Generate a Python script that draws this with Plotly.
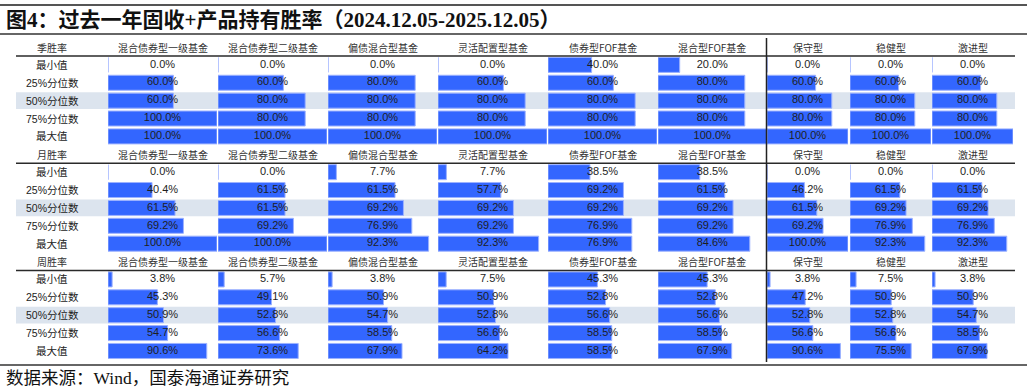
import plotly.graph_objects as go

W, H = 1032, 391

columns = ["混合债券型一级基金", "混合债券型二级基金", "偏债混合型基金", "灵活配置型基金",
           "债券型FOF基金", "混合型FOF基金", "保守型", "稳健型", "激进型"]
sections = ["季胜率", "月胜率", "周胜率"]
row_labels = ["最小值", "25%分位数", "50%分位数", "75%分位数", "最大值"]

# values per section: rows = 最小值, 25%, 50%, 75%, 最大值 ; cols = 9 fund types
quarter_min = [0.0, 0.0, 0.0, 0.0, 40.0, 20.0, 0.0, 0.0, 0.0]
quarter_p25 = [60.0, 60.0, 80.0, 60.0, 60.0, 80.0, 60.0, 60.0, 60.0]
quarter_p50 = [60.0, 80.0, 80.0, 80.0, 80.0, 80.0, 80.0, 80.0, 80.0]
quarter_p75 = [100.0, 80.0, 80.0, 80.0, 80.0, 80.0, 80.0, 80.0, 80.0]
quarter_max = [100.0, 100.0, 100.0, 100.0, 100.0, 100.0, 100.0, 100.0, 100.0]

month_min = [0.0, 0.0, 7.7, 7.7, 38.5, 38.5, 0.0, 0.0, 0.0]
month_p25 = [40.4, 61.5, 61.5, 57.7, 69.2, 61.5, 46.2, 61.5, 61.5]
month_p50 = [61.5, 61.5, 69.2, 69.2, 69.2, 69.2, 61.5, 69.2, 69.2]
month_p75 = [69.2, 69.2, 76.9, 69.2, 76.9, 69.2, 69.2, 76.9, 76.9]
month_max = [100.0, 100.0, 92.3, 92.3, 76.9, 84.6, 100.0, 92.3, 92.3]

week_min = [3.8, 5.7, 3.8, 7.5, 45.3, 45.3, 3.8, 7.5, 3.8]
week_p25 = [45.3, 49.1, 50.9, 50.9, 52.8, 52.8, 47.2, 50.9, 50.9]
week_p50 = [50.9, 52.8, 54.7, 52.8, 56.6, 56.6, 52.8, 52.8, 54.7]
week_p75 = [54.7, 56.6, 58.5, 56.6, 58.5, 58.5, 56.6, 56.6, 58.5]
week_max = [90.6, 73.6, 67.9, 64.2, 58.5, 67.9, 90.6, 75.5, 67.9]

section_data = [
    [quarter_min, quarter_p25, quarter_p50, quarter_p75, quarter_max],
    [month_min, month_p25, month_p50, month_p75, month_max],
    [week_min, week_p25, week_p50, week_p75, week_max],
]

# ---- layout geometry (pixels) ----
col_left = [108, 218, 328, 438, 548, 658, 767, 850, 932]
col_width = [109, 109, 109, 109, 109, 108.5, 81, 81, 81]
row_top_px, row_pitch = 47, 17.88
n_rows = 18

def px_x(p):
    return p / W

def px_y(p):
    return 1 - p / H

y_top = row_top_px - row_pitch / 2
y_bot = row_top_px + row_pitch * (n_rows - 1) + row_pitch / 2

BAR = "#3366FF"
BAR_EDGE = "#9DB2FF"
TXT = "#1e1e1e"
LATIN = "Liberation Sans, Arial, sans-serif"
CJK = "Noto Sans CJK SC"

fig = go.Figure()
annotations = []
shapes = []

for ci, name in enumerate(columns):
    xa = "x" if ci == 0 else f"x{ci+1}"
    ys, xs, labels = [], [], []
    for si, rows in enumerate(section_data):
        for ri, vals in enumerate(rows):
            ys.append(si * 6 + 1 + ri)
            xs.append(vals[ci])
            labels.append(f"{vals[ci]:.1f}%")
    fig.add_trace(go.Bar(
        x=xs, y=ys, orientation="h", xaxis=xa, yaxis="y",
        marker=dict(color=BAR, line=dict(color=BAR_EDGE, width=1)),
        width=0.84, hoverinfo="skip", showlegend=False,
    ))
    fig.add_trace(go.Scatter(
        x=[50] * len(ys), y=ys, mode="text", text=labels, xaxis=xa, yaxis="y",
        textfont=dict(family=LATIN, size=11, color=TXT), textposition="middle center",
        hoverinfo="skip", showlegend=False, cliponaxis=False,
    ))
    for si in range(3):
        annotations.append(dict(
            xref=xa, yref="y", x=50, y=si * 6, text=name, showarrow=False,
            font=dict(family=CJK, size=10, color="#333333"),
            xanchor="center", yanchor="middle"))

# left label column
for si, sname in enumerate(sections):
    annotations.append(dict(xref="paper", yref="y", x=px_x(52), y=si * 6, text=sname,
                            showarrow=False, font=dict(family=CJK, size=10, color="#333333"),
                            xanchor="center", yanchor="middle"))
    for ri, rl in enumerate(row_labels):
        annotations.append(dict(xref="paper", yref="y", x=px_x(52), y=si * 6 + 1 + ri, text=rl,
                                showarrow=False,
                                font=dict(family=f"{LATIN.split(',')[0]}, {CJK}", size=10.5, color="#222222"),
                                xanchor="center", yanchor="middle"))
    # highlight band for 50% row
    shapes.append(dict(type="rect", xref="paper", yref="y", x0=px_x(16), x1=px_x(1015),
                       y0=si * 6 + 3 - 0.47, y1=si * 6 + 3 + 0.47,
                       fillcolor="#DCE4EE", line=dict(width=0), layer="below"))
    # line under section header
    shapes.append(dict(type="line", xref="paper", yref="y", x0=px_x(16), x1=px_x(1015),
                       y0=si * 6 + 0.5, y1=si * 6 + 0.5, line=dict(color="#2a2a2a", width=1.5)))

# vertical separator
shapes.append(dict(type="line", xref="paper", yref="paper", x0=px_x(766.5), x1=px_x(766.5),
                   y0=px_y(362), y1=px_y(38), line=dict(color="#222222", width=1.5)))
# top / title / bottom rules
shapes.append(dict(type="line", xref="paper", yref="paper", x0=0, x1=px_x(1027),
                   y0=px_y(5), y1=px_y(5), line=dict(color="#555555", width=2)))
shapes.append(dict(type="line", xref="paper", yref="paper", x0=0, x1=px_x(1027),
                   y0=px_y(34), y1=px_y(34), line=dict(color="#333333", width=1.5)))
shapes.append(dict(type="line", xref="paper", yref="paper", x0=0, x1=px_x(1027),
                   y0=px_y(365), y1=px_y(365), line=dict(color="#666666", width=2)))

# title and source
annotations.append(dict(xref="paper", yref="paper", x=px_x(4), y=px_y(20),
                        text="<b>图4：过去一年固收+产品持有胜率（2024.12.05-2025.12.05）</b>",
                        showarrow=False, xanchor="left", yanchor="middle",
                        font=dict(family=f"Liberation Serif, {CJK}", size=21, color="#111111")))
annotations.append(dict(xref="paper", yref="paper", x=px_x(4), y=px_y(378),
                        text="数据来源：Wind，国泰海通证券研究",
                        showarrow=False, xanchor="left", yanchor="middle",
                        font=dict(family=f"Liberation Serif, {CJK}", size=17.5, color="#111111")))

layout = dict(
    width=W, height=H, autosize=False,
    margin=dict(l=0, r=0, t=0, b=0, pad=0),
    paper_bgcolor="white", plot_bgcolor="rgba(0,0,0,0)",
    barmode="overlay", showlegend=False,
    annotations=annotations, shapes=shapes,
    yaxis=dict(range=[n_rows - 0.5, -0.5], domain=[px_y(y_bot), px_y(y_top)],
               visible=False, fixedrange=True, anchor="x"),
)
for ci in range(len(columns)):
    key = "xaxis" if ci == 0 else f"xaxis{ci+1}"
    layout[key] = dict(range=[0, 100], domain=[px_x(col_left[ci]), px_x(col_left[ci] + col_width[ci])],
                       visible=False, fixedrange=True, anchor="y")
fig.update_layout(**layout)

fig.write_html("out.html")
